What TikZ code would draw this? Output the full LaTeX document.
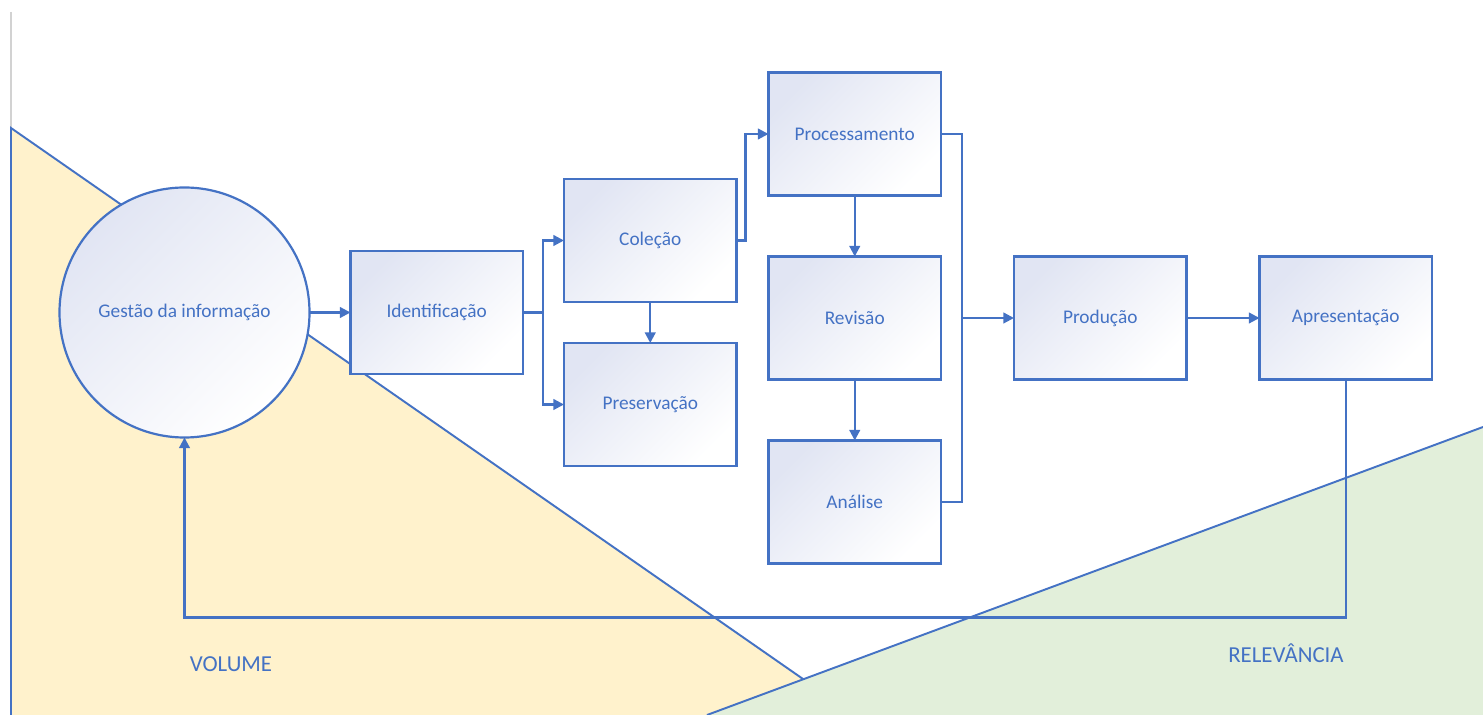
\documentclass[tikz,border=0pt]{standalone}
\usepackage{fontspec}
\setmainfont{Carlito}
\usetikzlibrary{positioning}
\usetikzlibrary{calc}
\usetikzlibrary{arrows.meta}
\definecolor{azul}{HTML}{4472C4}
\definecolor{amarelo}{HTML}{FFF2CC}
\definecolor{verde}{HTML}{E2EFDA}
\definecolor{lilas}{HTML}{E1E5F3}
\tikzset{
b/.style={
  rectangle,
  outer sep=0pt,
  minimum width=3.45cm,
  minimum height=2.46cm,
  align=center,
  draw=azul,
  top color=lilas,
  bottom color=white,
  shading angle=45,
  text=azul,
  font=\fontsize{11}{13}\selectfont
  },
c/.style={
  circle,
  inner sep=0pt,
  outer sep=0pt,
  minimum size=5.0cm,
  align=center,
  draw=azul,
  top color=lilas,
  bottom color=white,
  shading angle=45,
  text=azul,
  font=\fontsize{11}{13}\selectfont
  },
lbl/.style={
  text=azul,
  font=\fontsize{13}{15}\selectfont
  }
}

\begin{document}
\begin{tikzpicture}[>={Triangle[length=6pt,width=6pt]},line width=1.25pt,draw=azul]
    \useasboundingbox (0,0) rectangle (29.66,-14.3);
    % fundo
    \draw[gray!35,line width=1.2pt] (0.22,-0.24) -- (0.22,-2.56);
    \fill[amarelo] (0.22,-2.56) -- (16.06,-13.58) -- (14.14,-14.3) -- (0.22,-14.3) -- cycle;
    \draw[azul,line width=1.1pt] (0.22,-14.3) -- (0.22,-2.56) -- (16.06,-13.58);
    \fill[verde] (14.14,-14.3) -- (29.66,-8.54) -- (29.66,-14.3) -- cycle;
    \draw[azul,line width=1.1pt] (14.14,-14.3) -- (29.66,-8.54);

    \node[c] (gi) at (3.69,-6.25) {Gestão da informação};
    \node[b] (id)   [right=0.82cm of gi] {Identificação};
    \node[b] (col)  [right=0.82cm of id,yshift=1.44cm] {Coleção};
    \node[b] (pres) [below=0.82cm of col] {Preservação};
    \node[b] (proc) [right=0.64cm of col,yshift=2.13cm] {Processamento};
    \node[b] (rev)  [below=1.22cm of proc] {Revisão};
    \node[b] (ana)  [below=1.22cm of rev] {Análise};
    \node[b] (prod) [right=1.46cm of rev] {Produção};
    \node[b] (apr)  [right=1.46cm of prod] {Apresentação};

    \node[lbl] (vol) at (4.62,-13.28) {VOLUME};
    \node[lbl] (rel) at (25.72,-13.06) {RELEVÂNCIA};

    \coordinate (s1) at ($(id.east)+(0.4,0)$);
    \coordinate (s2) at ($(col.east)+(0.18,0)$);
    \coordinate (s3) at ($(proc.east)+(0.42,0)$);
    \coordinate (fb) at ($(apr.south)+(0,-4.76)$);

    \path[->]
    (gi) edge (id)
    (col) edge (pres)
    (proc) edge (rev)
    (rev) edge (ana)
    (prod) edge (apr)
    ;
    \draw[->] (id.east) -- (s1) |- (col.west);
    \draw[->] (s1) |- (pres.west);
    \draw[->] (col.east) -- (s2) |- (proc.west);
    \draw (proc.east) -- (s3) |- (ana.east);
    \draw[->] (s3 |- prod.west) -- (prod.west);
    \draw[->] (apr.south) -- (fb) -| (gi.south);
\end{tikzpicture}
\end{document}
